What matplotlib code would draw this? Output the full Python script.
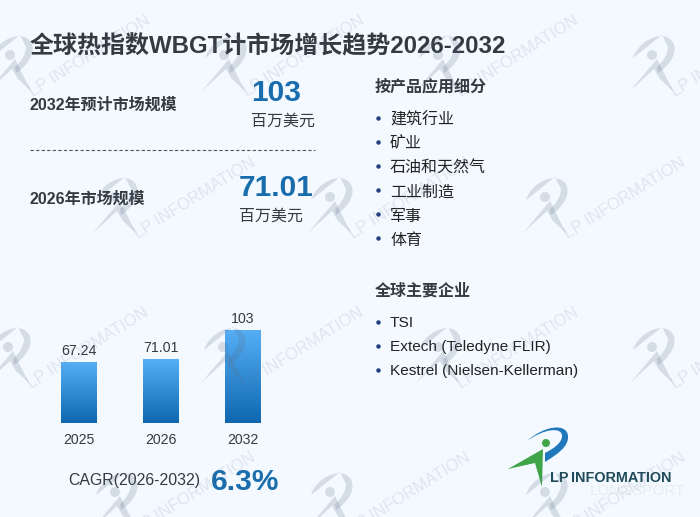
import matplotlib
matplotlib.use('Agg')
import matplotlib.pyplot as plt
import numpy as np
from matplotlib.patches import Circle, PathPatch, Polygon
from matplotlib.path import Path

plt.rcParams['font.family'] = ['Liberation Sans', 'Noto Sans CJK SC']

# --- Dados ---
anos = ['2025', '2026', '2032']
valores = [67.24, 71.01, 103]
valores_txt = ['67.24', '71.01', '103']
titulo = '全球热指数WBGT计市场增长趋势2026-2032'
aplicacoes = ['建筑行业', '矿业', '石油和天然气', '工业制造', '军事', '体育']
empresas = ['TSI', 'Extech (Teledyne FLIR)', 'Kestrel (Nielsen-Kellerman)']
cagr = '6.3%'

AZUL = '#1A6DAD'
ESCURO = '#333A40'

fig = plt.figure(figsize=(7, 5.17), dpi=100, facecolor='#F3F9FF')
W, H = 700, 517

# camada em pixels para textos e logos
bg = fig.add_axes([0, 0, 1, 1], zorder=1)
bg.set_xlim(0, W)
bg.set_ylim(H, 0)
bg.axis('off')

bg.text(30, 47, titulo, fontsize=17.3, fontweight='bold', color=ESCURO, va='center')
bg.text(30, 105, '2032年预计市场规模', fontsize=11.5, fontweight='bold', color=ESCURO, va='center')
bg.text(30, 199, '2026年市场规模', fontsize=11.5, fontweight='bold', color=ESCURO, va='center')
bg.text(276.5, 93, '103', fontsize=21.5, fontweight='bold', color=AZUL, ha='center', va='center')
bg.text(283, 121, '百万美元', fontsize=11.5, color=ESCURO, ha='center', va='center')
bg.text(276.5, 188, '71.01', fontsize=21.5, fontweight='bold', color=AZUL, ha='center', va='center')
bg.text(271, 216, '百万美元', fontsize=11.5, color=ESCURO, ha='center', va='center')
bg.plot([30, 315], [150, 150], color='#555555', lw=0.8, ls=(0, (3, 2)))

bg.text(375, 87, '按产品应用细分', fontsize=11.5, fontweight='bold', color=ESCURO, va='center')
for i, nome in enumerate(aplicacoes):
    y = 120 + 24 * i
    bg.plot([378], [y - 2], 'o', ms=3.2, color='#1F3F7F', mew=0)
    bg.text(390, y, nome, fontsize=11.5, color='#222222', va='center')

bg.text(375, 291, '全球主要企业', fontsize=11.5, fontweight='bold', color=ESCURO, va='center')
for i, nome in enumerate(empresas):
    y = 323 + 24 * i
    bg.plot([378], [y - 1], 'o', ms=3.2, color='#1F3F7F', mew=0)
    bg.text(390, y, nome, fontsize=11.05, color='#222222', va='center')

bg.text(68, 481, 'CAGR(2026-2032)', fontsize=11.4, color=ESCURO, va='center')
bg.text(211, 482, cagr, fontsize=21.5, fontweight='bold', color=AZUL, va='center')

# --- Logo principal ---
arco = Path([(527, 441), (545, 425), (567, 423), (568, 436), (569, 447), (556, 455), (545, 462),
             (545, 453), (553, 449), (562, 443), (562, 436), (562, 427), (545, 428), (527, 441)],
            [1, 4, 4, 4, 4, 4, 4, 2, 4, 4, 4, 4, 4, 4])
bg.add_patch(PathPatch(arco, fc='#1F78BC', ec='none'))
bg.add_patch(Circle((546, 443), 4, fc='#3FA548', ec='none'))
bg.add_patch(Polygon([(508, 469), (543, 449), (542, 487), (535, 463)], fc='#3FA548', ec='none'))
bg.text(590, 491, 'LONGSPORT', fontsize=11, color='#E8ECF0', va='center', zorder=1)
bg.text(550, 478, 'LP', fontsize=10.4, fontweight='bold', color='#1F4A5A', va='center', zorder=3)
bg.text(571, 478, 'INFORMATION', fontsize=10.4, fontweight='bold', color='#1F4A5A', va='center', zorder=3)

# --- Barras ---
ax = fig.add_axes([38 / W, 1 - 423 / H, 246 / W, 115 / H], zorder=2)
ax.patch.set_alpha(0)
x = np.arange(len(anos))
barras = ax.bar(x, valores, width=0.427, color='none')
grad = np.linspace(0, 1, 256).reshape(-1, 1)
cmap = matplotlib.colors.LinearSegmentedColormap.from_list('bar', ['#56AEF6', '#0F67AF'])
for b, v, txt in zip(barras, valores, valores_txt):
    im = ax.imshow(grad, extent=(b.get_x(), b.get_x() + b.get_width(), 0, v),
                   cmap=cmap, aspect='auto', zorder=2)
    ax.text(b.get_x() + b.get_width() / 2, v + 5, txt, ha='center', va='bottom',
            fontsize=10.2, color=ESCURO)
ax.set_xlim(-0.5, 2.5)
ax.set_ylim(0, 115 / 0.9)
ax.set_xticks(x, anos)
ax.set_yticks([])
ax.tick_params(axis='x', length=0, pad=7, labelsize=10.2, labelcolor=ESCURO)
for s in ax.spines.values():
    s.set_visible(False)

# --- Marca de água por cima de tudo ---
top = fig.add_axes([0, 0, 1, 1], zorder=5)
top.set_xlim(0, W)
top.set_ylim(H, 0)
top.axis('off')
top.patch.set_alpha(0)

COR_WM = '#5A6B85'
ALFA = 0.2


def marca(cx, cy):
    pts = np.array([(-19, 3), (-14, -14), (10, -26), (20, -14), (28, -3), (16, 12), (6, 18),
                    (5, 12), (12, 6), (16, -2), (16, -8), (10, -20), (-19, 3)]) + (cx, cy)
    cod = [1, 4, 4, 4, 4, 4, 4, 2, 4, 4, 2, 4, 4]
    cod = [1, 4, 4, 4, 4, 4, 4, 2, 4, 4, 4, 2, 2]
    top.add_patch(PathPatch(Path(pts, cod), fc=COR_WM, ec='none', alpha=ALFA))
    top.add_patch(Circle((cx, cy), 5, fc=COR_WM, ec='none', alpha=ALFA))
    top.add_patch(Polygon(np.array([(-22, 36), (5, 4), (21, 36), (8, 24), (2, 14)]) + (cx, cy),
                          fc=COR_WM, ec='none', alpha=ALFA))
    top.text(cx + 25, cy + 45, 'LP INFORMATION', fontsize=12, rotation=32, color=COR_WM,
             alpha=0.14, ha='left', va='bottom', rotation_mode='anchor', clip_on=True)


for cy, cxs in [(55, [10, 224, 438, 652]), (197, [115, 330, 545]),
                (347, [8, 223, 438, 652]), (492, [115, 330, 545])]:
    for cx in cxs:
        marca(cx, cy)

fig.savefig('out.png', dpi=100, facecolor=fig.get_facecolor())
